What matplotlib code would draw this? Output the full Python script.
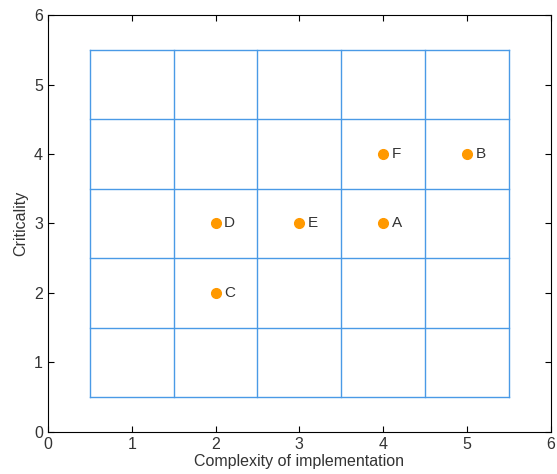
import numpy as np
import matplotlib
matplotlib.use("Agg")
import matplotlib.pyplot as plt

plt.rcParams['font.family'] = ['Liberation Sans', 'DejaVu Sans']

# data
names = ['A', 'B', 'C', 'D', 'E', 'F']
complexity = [4, 5, 2, 2, 3, 4]
criticality = [3, 4, 2, 3, 3, 4]
grid_edges = [0.5, 1.5, 2.5, 3.5, 4.5, 5.5]
ticks = [0, 1, 2, 3, 4, 5, 6]

fig = plt.figure(figsize=(5.57, 4.74), dpi=100)
ax = fig.add_axes([0.086, 0.089, 0.903, 0.879])

grid_col = '#4a9ae6'
for e in grid_edges:
    ax.plot([e, e], [grid_edges[0], grid_edges[-1]], color=grid_col, lw=1)
    ax.plot([grid_edges[0], grid_edges[-1]], [e, e], color=grid_col, lw=1)

ax.plot(complexity, criticality, 'o', color='#ff9900', ms=7, mec='#ff9900')
for n, x, y in zip(names, complexity, criticality):
    ax.text(x + 0.1, y, n, fontsize=11, color='#333333', va='center', ha='left')

ax.set_xlim(0, 6)
ax.set_ylim(0, 6)
ax.set_xticks(ticks)
ax.set_yticks(ticks)
ax.tick_params(direction='in', top=True, right=True, labelsize=11.5,
               labelcolor='#333333', length=4)
ax.set_xlabel('Complexity of implementation', fontsize=11.5, color='#333333', labelpad=2)
ax.set_ylabel('Criticality', fontsize=11.5, color='#333333', labelpad=4)

fig.savefig('out.png', dpi=100)
